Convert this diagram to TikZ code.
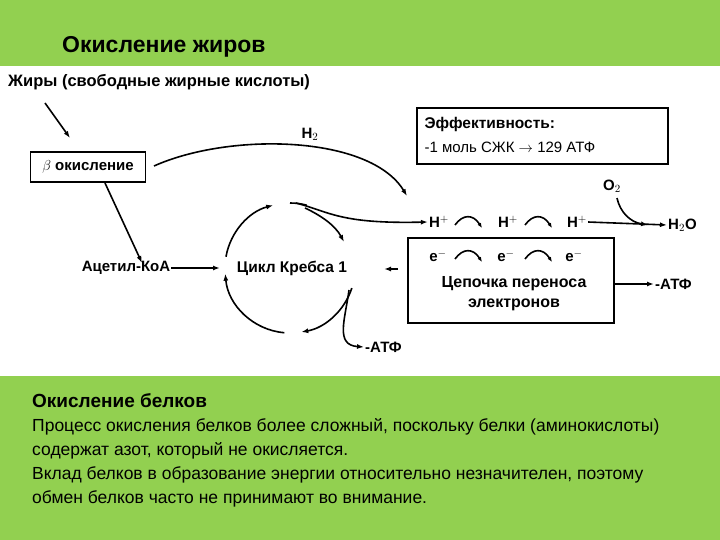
\documentclass[tikz,border=0pt]{standalone}
\usepackage{fontspec}
\setmainfont{Liberation Sans}
\usetikzlibrary{arrows.meta}
\definecolor{grn}{HTML}{92D050}
\begin{document}
\begin{tikzpicture}[x=1pt,y=-1pt,
  lbl/.style={font=\fontsize{15}{17}\selectfont\bfseries,inner sep=1pt},
  arr/.style={line width=1.6pt,-{Latex[length=7pt,width=5pt]}},
  ln/.style={line width=1.6pt},
  body/.style={font=\fontsize{17.5}{24}\selectfont,anchor=north west,align=left,inner sep=0pt}]
\useasboundingbox (0,0) rectangle (720,540);
\fill[grn] (0,0) rectangle (720,540);
\fill[white] (0,66) rectangle (720,376);
\node[anchor=west,inner sep=0pt,font=\fontsize{23}{26}\selectfont\bfseries] (t1) at (62,47) {Окисление жиров};
\node[anchor=west,inner sep=0pt,font=\fontsize{16.5}{18}\selectfont\bfseries] (fat) at (8,82) {Жиры (свободные жирные кислоты)};
\node[draw,line width=1.6pt,lbl,minimum width=115pt,minimum height=30pt] (beta) at (88,167) {$\beta$ окисление};
\node[lbl] (acc) at (126,268) {Ацетил-КоА};
\node[lbl,font=\fontsize{15.5}{17}\selectfont\bfseries] (krebs) at (292,268) {Цикл Кребса 1};
\node[draw,line width=1.6pt,minimum width=206pt,minimum height=85pt] (etc) at (511,280.5) {};
\node[lbl,align=center,font=\fontsize{16}{20}\selectfont\bfseries] (etct) at (514,294) {Цепочка переноса\\электронов};
\node[draw,line width=1.3pt,minimum width=251pt,minimum height=56pt] (eff) at (542.5,136) {};
\node[anchor=west,font=\fontsize{15.5}{17}\selectfont\bfseries] (eff1) at (421,124) {Эффективность:};
\node[anchor=west,font=\fontsize{15}{17}\selectfont] (eff2) at (421,147) {-1 моль СЖК $\rightarrow$ 129 АТФ};
% H+ and e-
\node[lbl] (h1) at (439,222) {H$^{+}$};
\node[lbl] (h2) at (508,222) {H$^{+}$};
\node[lbl] (h3) at (577,222) {H$^{+}$};
\node[lbl] (e1) at (438,256) {e$^{-}$};
\node[lbl] (e2) at (506,256) {e$^{-}$};
\node[lbl] (e3) at (574,256) {e$^{-}$};
\node[lbl,anchor=west] (h2o) at (667,225) {H$_2$O};
\node[lbl] (o2) at (612,186) {O$_2$};
\node[lbl] (h2t) at (310,134) {H$_2$};
\node[lbl,anchor=west] (atp1) at (654,284) {-АТФ};
\node[lbl,anchor=west] (atp2) at (364,347) {-АТФ};
\coordinate (c) at (290,268);
% arrows
\draw[arr] (45,103) -- (70,138);
\draw[arr] (105,183) -- (142,263);
\draw[arr] (acc.east) -- (220,268);
\draw[arr] (154,166) .. controls (230,132) and (370,135) .. (407,196);
\draw[arr] (296,203) .. controls (330,212) and (340,224) .. (h1.west);
\draw[arr] (305,208) .. controls (320,215) and (335,225) .. (344,242);
\draw[arr] (398,269) -- (384,269);
\draw[arr] (h3.east) -- (h2o.west);
\draw[arr] (617,198) .. controls (620,212) and (630,222) .. (648,225);
\draw[arr] (etc.east |- atp1) -- (atp1.west);
\draw[arr] (349,290) .. controls (345,320) and (335,345) .. (atp2.west);
% Krebs circle segments
\draw[arr] (c) ++(190:65) arc (190:255:65);
\draw[arr] (c) ++(95:65) arc (95:175:65);
\draw[arr] (c) ++(18:65) arc (18:80:65);
\draw[ln] (c) ++(270:65) arc (270:285:65);
% small curved arrows
\foreach \x/\y in {455/222,525/222,455/256,525/256}{
  \draw[ln,-{Latex[length=5pt,width=4pt]}] (\x,\y+3) .. controls (\x+8,\y-8) and (\x+18,\y-8) .. (\x+27,\y+6);
}
\node[body,font=\fontsize{19}{22}\selectfont\bfseries] (t2) at (32,393) {Окисление белков};
\node[body] (txt) at (32,418) {Процесс окисления белков более сложный, поскольку белки (аминокислоты)\\содержат азот, который не окисляется.\\Вклад белков в образование энергии относительно незначителен, поэтому\\обмен белков часто не принимают во внимание.};
\end{tikzpicture}
\end{document}
